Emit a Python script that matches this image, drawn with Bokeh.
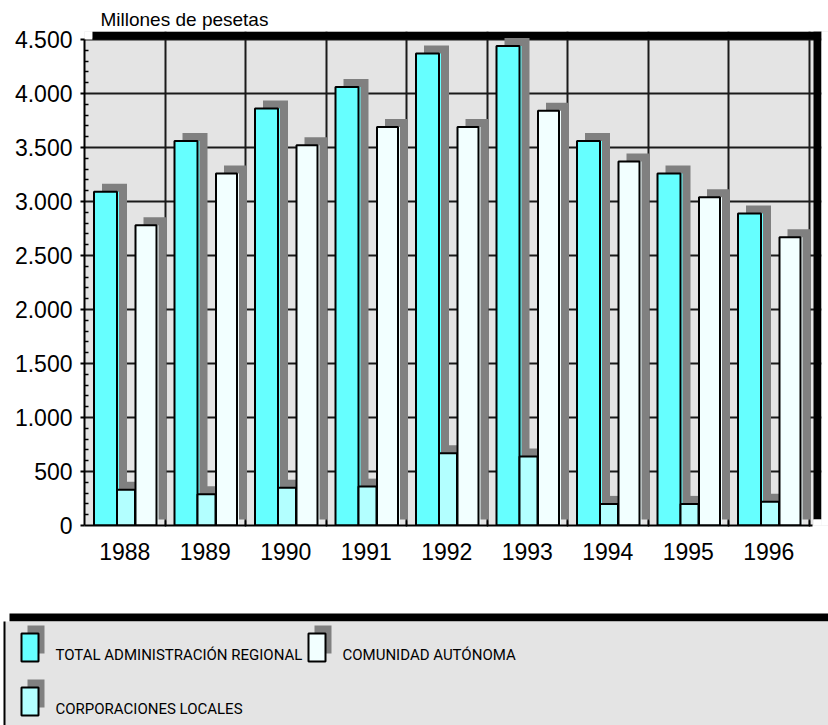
from bokeh.plotting import figure
from bokeh.models import Range1d, FixedTicker, ColumnDataSource
from bokeh.embed import file_html
from bokeh.resources import INLINE
from bokeh.core.properties import value

# ---------------- data ----------------
years = ["1988", "1989", "1990", "1991", "1992", "1993", "1994", "1995", "1996"]
total = [3090, 3560, 3860, 4060, 4370, 4440, 3560, 3260, 2890]
comunidad = [2780, 3260, 3520, 3690, 3690, 3840, 3370, 3040, 2670]
corporaciones = [330, 290, 350, 360, 670, 640, 200, 200, 220]
series_names = ["TOTAL ADMINISTRACIÓN REGIONAL", "COMUNIDAD AUTÓNOMA", "CORPORACIONES LOCALES"]
y_ticks = [0, 500, 1000, 1500, 2000, 2500, 3000, 3500, 4000, 4500]
y_tick_labels = ["0", "500", "1.000", "1.500", "2.000", "2.500", "3.000", "3.500", "4.000", "4.500"]
y_title = "Millones de pesetas"

# ---------------- styles ----------------
CYAN = "#66ffff"
LIGHT = "#b3ffff"
PALE = "#f2ffff"
SHADOW = "#808080"
BG = "#e4e4e4"
GRID = "#1a1a1a"
FONT = "Liberation Sans"
LEG_FONT = "Roboto"

W = 828
H1 = 605
H2 = 120
CAT_PX = 80.5
UNIT_PX = 0.108
FRAME_LEFT = 84
FRAME_TOP = 31
FRAME_BOTTOM = 525
x_end = (W - FRAME_LEFT) / CAT_PX
y_end = (FRAME_BOTTOM - FRAME_TOP) / UNIT_PX
n = len(years)
y_top = y_ticks[-1]

def px_x(px):
    return (px - FRAME_LEFT) / CAT_PX

def px_y(py):
    return (FRAME_BOTTOM - py) / UNIT_PX

p = figure(width=W, height=H1, x_range=Range1d(0, x_end), y_range=Range1d(0, y_end),
           output_backend="svg", toolbar_location=None,
           min_border_left=FRAME_LEFT, min_border_right=0,
           min_border_top=FRAME_TOP, min_border_bottom=H1 - FRAME_BOTTOM)
p.outline_line_color = None
p.background_fill_color = BG
p.border_fill_color = "white"

p.title.text = y_title
p.title.align = "left"
p.title.offset = 16
p.title.standoff = 4
p.title.text_font = FONT
p.title.text_font_size = "19px"
p.title.text_font_style = "normal"
p.title.text_color = "black"

# grid
p.xgrid.ticker = FixedTicker(ticks=list(range(1, n + 1)))
p.ygrid.ticker = FixedTicker(ticks=y_ticks[1:])
for g in (p.xgrid, p.ygrid):
    g.grid_line_color = GRID
    g.grid_line_width = 2

# frame decorations (plot-area drop shadow)
p.quad(left=[0], right=[px_x(92)], bottom=[y_top], top=[y_end], fill_color="white", line_color=None)
p.quad(left=[px_x(92)], right=[px_x(821)], bottom=[y_top], top=[y_end], fill_color="black", line_color=None)
p.quad(left=[px_x(813)], right=[px_x(821)], bottom=[px_y(519)], top=[y_end], fill_color="black", line_color=None)
p.quad(left=[px_x(813)], right=[px_x(821)], bottom=[0], top=[px_y(519)], fill_color="white", line_color=None)
p.quad(left=[px_x(821)], right=[x_end], bottom=[0], top=[y_end], fill_color="white", line_color=None)

# bars
def draw_series(vals, l_off, r_off, color):
    left = [i + l_off / CAT_PX for i in range(n)]
    right = [i + r_off / CAT_PX for i in range(n)]
    src = ColumnDataSource(dict(
        left=left, right=right, top=vals, bottom=[0] * n,
        fright=[r + 2 / CAT_PX for r in right],
        sleft=[l + 8 / CAT_PX for l in left],
        sright=[r + 10 / CAT_PX for r in right],
        stop=[v + 8 / UNIT_PX for v in vals],
        sbottom=[6 / UNIT_PX] * n,
    ))
    p.quad(left="sleft", right="sright", top="stop", bottom="sbottom", source=src,
           fill_color=SHADOW, line_color=None)
    p.quad(left="left", right="fright", top="top", bottom="bottom", source=src,
           fill_color=color, line_color=None)
    p.quad(left="left", right="right", top="top", bottom="bottom", source=src,
           fill_color=None, line_color="black", line_width=2)

draw_series(total, 9.5, 32.5, CYAN)
draw_series(corporaciones, 32.5, 50.5, LIGHT)
draw_series(comunidad, 51, 72, PALE)

# axes
p.yaxis.ticker = FixedTicker(ticks=y_ticks,
                             minor_ticks=[v for v in range(100, y_top, 100) if v % 500])
p.yaxis.major_label_overrides = dict(zip(y_ticks, y_tick_labels))
p.yaxis.bounds = (0, y_top)
p.yaxis.axis_line_width = 2
p.yaxis.axis_line_color = "black"
p.yaxis.major_tick_in = 0
p.yaxis.major_tick_out = 4
p.yaxis.major_tick_line_width = 2
p.yaxis.minor_tick_in = 4
p.yaxis.minor_tick_out = 0
p.yaxis.minor_tick_line_width = 1.5
p.yaxis.major_label_text_font = FONT
p.yaxis.major_label_text_font_size = "23px"
p.yaxis.major_label_text_color = "black"
p.yaxis.major_label_standoff = 8

p.xaxis.ticker = FixedTicker(ticks=[i + 0.5 for i in range(n)], minor_ticks=list(range(1, n + 1)))
p.xaxis.major_label_overrides = {i + 0.5: y for i, y in enumerate(years)}
p.xaxis.bounds = (0, px_x(812))
p.xaxis.axis_line_width = 2
p.xaxis.axis_line_color = "black"
p.xaxis.major_tick_in = 0
p.xaxis.major_tick_out = 0
p.xaxis.minor_tick_in = 5
p.xaxis.minor_tick_out = 1
p.xaxis.minor_tick_line_width = 1.5
p.xaxis.major_label_text_font = FONT
p.xaxis.major_label_text_font_size = "23px"
p.xaxis.major_label_text_color = "black"
p.xaxis.major_label_standoff = 16

# ---------------- legend panel ----------------
q = figure(width=W, height=H2, x_range=Range1d(0, W), y_range=Range1d(H2, 0),
           output_backend="svg", toolbar_location=None,
           min_border=0, min_border_left=0, min_border_right=0,
           min_border_top=0, min_border_bottom=0,
           x_axis_location=None, y_axis_location=None)
q.outline_line_color = None
q.grid.visible = False
q.background_fill_color = "white"
q.border_fill_color = "white"

q.quad(left=[9], right=[W], top=[8], bottom=[16], fill_color="black", line_color=None)
q.quad(left=[4], right=[W], top=[16], bottom=[H2], fill_color=BG, line_color=None)
q.segment(x0=[4], y0=[16], x1=[4], y1=[H2], line_color="black", line_width=2)

colors = [CYAN, PALE, LIGHT]
col_x = [21, 308, 21]
row_y = [28, 28, 82]
sw_w, sw_h = 17, 28
q.quad(left=[x + 6 for x in col_x], right=[x + 6 + sw_w for x in col_x],
       top=[y - 8 for y in row_y], bottom=[y - 8 + sw_h for y in row_y],
       fill_color=SHADOW, line_color=None)
q.quad(left=col_x, right=[x + sw_w for x in col_x], top=row_y, bottom=[y + sw_h for y in row_y],
       fill_color=colors, line_color="black", line_width=2)
q.text(x=[x + 34 for x in col_x], y=[y + 21 for y in row_y], text=series_names,
       text_font=value(LEG_FONT), text_font_size="15px", text_color="black",
       text_baseline="alphabetic", text_align="left")

open("out.html", "w").write(file_html([p, q], INLINE))
